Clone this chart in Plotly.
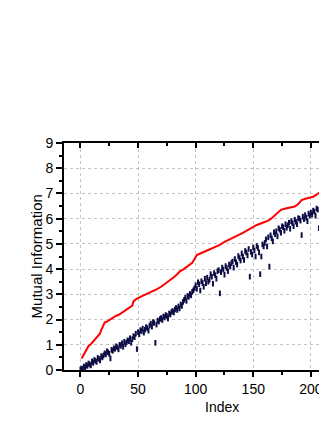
import plotly.graph_objects as go

# Red curve (upper bound)
red_x = [1, 2, 4, 7, 9, 11, 13, 15, 17, 18, 20, 21, 23, 25, 28, 31, 33, 36, 40, 43,
         45, 46, 48, 52, 56, 60, 63, 66, 70, 73, 75, 78, 81, 84, 86, 89, 92, 95, 97, 99,
         101, 104, 108, 112, 116, 121, 125, 129, 133, 137, 141, 145, 149, 153, 157, 160,
         163, 166, 169, 172, 174, 178, 182, 186, 189, 192, 196, 199, 202, 205, 208, 211,
         214, 216]
red_y = [0.46, 0.55, 0.73, 0.95, 1.02, 1.12, 1.22, 1.33, 1.45, 1.58, 1.75, 1.88, 1.92, 1.98,
         2.05, 2.15, 2.18, 2.27, 2.38, 2.47, 2.55, 2.72, 2.80, 2.90, 2.98, 3.07, 3.12, 3.20,
         3.30, 3.40, 3.46, 3.55, 3.68, 3.80, 3.90, 3.98, 4.08, 4.18, 4.25, 4.40, 4.56, 4.62,
         4.70, 4.79, 4.86, 4.96, 5.08, 5.18, 5.27, 5.35, 5.44, 5.55, 5.66, 5.75, 5.82, 5.87,
         5.92, 6.02, 6.15, 6.30, 6.35, 6.40, 6.44, 6.48, 6.58, 6.74, 6.80, 6.84, 6.87, 6.95,
         7.08, 7.18, 7.25, 7.30]

# Scatter points (one per index 0..214)
dots_y = [
    0.02, 0.06, 0.04, 0.14, 0.10, 0.20, 0.16, 0.26, 0.22, 0.18,
    0.34, 0.28, 0.40, 0.36, 0.32, 0.48, 0.44, 0.38, 0.55, 0.50,
    0.58, 0.66, 0.62, 0.74, 0.70, 0.64, 0.46, 0.80, 0.76, 0.86,
    0.84, 0.94, 0.90, 0.82, 1.00, 0.96, 1.06, 0.92, 1.12, 1.02,
    1.10, 1.18, 1.14, 1.26, 1.08, 1.22, 1.34, 1.30, 1.44, 0.83,
    1.50, 1.42, 1.58, 1.54, 1.64, 1.48, 1.60, 1.70, 1.66, 1.56,
    1.76, 1.84, 1.72, 1.90, 1.86, 1.08, 1.80, 1.96, 1.92, 2.02,
    2.06, 1.98, 2.12, 2.08, 2.18, 2.14, 2.04, 2.24, 2.20, 2.30,
    2.34, 2.28, 2.40, 2.46, 2.38, 2.52, 2.44, 2.60, 2.54, 2.70,
    2.78, 2.86, 2.74, 2.94, 2.90, 3.02, 2.96, 3.10, 3.16, 3.24,
    3.36, 3.22, 3.48, 3.40, 3.15, 3.52, 3.45, 3.30, 3.62, 3.44,
    3.66, 3.50, 3.58, 3.80, 3.70, 3.42, 3.84, 3.76, 3.62, 3.92,
    3.96, 3.04, 3.88, 4.06, 3.98, 3.78, 4.12, 4.04, 3.92, 4.18,
    4.10, 4.24, 4.30, 4.06, 4.40, 4.28, 4.18, 4.52, 4.44, 4.34,
    4.62, 4.50, 4.36, 4.72, 4.66, 4.54, 4.80, 3.70, 4.68, 4.58,
    4.86, 4.74, 4.50, 4.92, 4.84, 4.66, 3.80, 4.50, 4.98, 4.90,
    5.04, 5.18, 4.90, 5.26, 4.10, 5.34, 5.22, 5.10, 5.46, 5.38,
    5.50, 5.30, 5.62, 5.56, 5.44, 5.70, 5.66, 5.52, 5.78, 5.64,
    5.74, 5.84, 5.60, 5.90, 5.82, 5.70, 5.96, 5.88, 5.78, 6.02,
    6.00, 5.92, 5.35, 6.08, 5.98, 6.14, 6.04, 5.90, 6.20, 6.12,
    6.24, 6.16, 6.32, 6.28, 6.12, 6.40, 6.36, 5.62, 6.48, 6.44,
    6.56, 6.50, 6.64, 6.72, 6.68,
]
dots_x = list(range(len(dots_y)))

x_ticks = [0, 50, 100, 150, 200]
y_ticks = [0, 1, 2, 3, 4, 5, 6, 7, 8, 9]

FONT = "Liberation Sans, Arial, sans-serif"

fig = go.Figure()
fig.add_trace(go.Scatter(x=red_x, y=red_y, mode="lines",
                         line=dict(color="#ff0000", width=2), showlegend=False))
fig.add_trace(go.Scatter(x=dots_x, y=dots_y, mode="markers",
                         marker=dict(symbol="line-ns", size=4,
                                     line=dict(color="#0d0d45", width=2)),
                         showlegend=False))
# invisible trace for the top axis
fig.add_trace(go.Scatter(x=[0], y=[0], xaxis="x2", mode="markers",
                         marker=dict(opacity=0), showlegend=False, hoverinfo="skip"))

XR = [-14.3, 214]
fig.update_layout(
    width=319, height=407,
    margin=dict(l=56, r=0, t=135, b=45, autoexpand=False),
    paper_bgcolor="white", plot_bgcolor="white",
    font=dict(family=FONT, size=14, color="black"),
    xaxis=dict(range=XR, tickvals=x_ticks, ticks="outside", ticklen=5, tickwidth=1.5,
               tickcolor="black", showline=True, linecolor="black", linewidth=2,
               showgrid=True, gridcolor="#c4c4c4", griddash="dot", gridwidth=1,
               zeroline=False, tickfont=dict(size=14), automargin=False,
               minor=dict(dtick=25, tick0=0, ticks="outside", ticklen=3,
                          tickcolor="black", tickwidth=1.5, showgrid=False)),
    xaxis2=dict(range=XR, overlaying="x", side="top", tickvals=x_ticks,
                ticks="inside", ticklen=5, tickwidth=1.5, tickcolor="black",
                showticklabels=False, showline=True, linecolor="black", linewidth=2,
                showgrid=False, zeroline=False, automargin=False,
                minor=dict(dtick=25, tick0=0, ticks="inside", ticklen=3,
                           tickcolor="black", tickwidth=1.5, showgrid=False)),
    yaxis=dict(range=[0, 9], tickvals=y_ticks, ticks="outside", ticklen=6, tickwidth=1.5,
               tickcolor="black", showline=True, linecolor="black", linewidth=2,
               showgrid=True, gridcolor="#c4c4c4", griddash="dot", gridwidth=1,
               zeroline=False, tickfont=dict(size=14), automargin=False,
               minor=dict(dtick=0.5, tick0=0, ticks="outside", ticklen=3,
                          tickcolor="black", tickwidth=1.5, showgrid=False)),
    annotations=[
        dict(text="Index", xref="paper", yref="paper", x=0.6, y=-0.163,
             xanchor="center", yanchor="middle", showarrow=False,
             font=dict(size=14, family=FONT)),
        dict(text="Mutual Information", xref="paper", yref="paper", x=-0.103, y=0.5,
             xanchor="center", yanchor="middle", textangle=-90, showarrow=False,
             font=dict(size=15, family=FONT)),
    ],
)

fig.write_html("out.html")
